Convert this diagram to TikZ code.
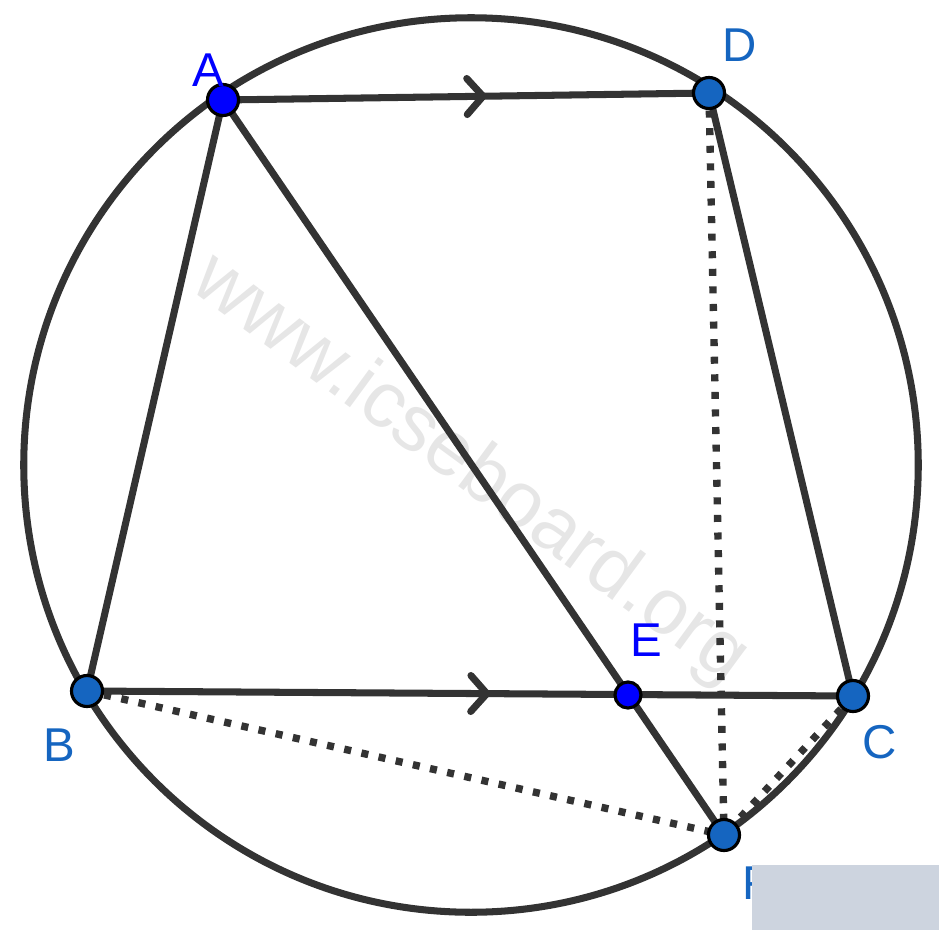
\documentclass[tikz,border=0pt]{standalone}
\usepackage{fontspec}
\setmainfont{Liberation Sans}
\usetikzlibrary{positioning,calc,decorations.markings}

\definecolor{linegray}{HTML}{333333}
\definecolor{ptblue}{HTML}{1565C0}
\definecolor{ptpure}{HTML}{0000FF}
\definecolor{markgray}{HTML}{E6E6E6}
\definecolor{boxgray}{HTML}{CDD4DF}

\begin{document}
\begin{tikzpicture}[x=0.01cm, y=-0.01cm,
    seg/.style={draw=linegray, line width=2pt},
    dotseg/.style={draw=linegray, line width=2.1pt, dash pattern=on 2pt off 3pt},
    pt/.style={circle, draw=black, line width=0.9pt, fill=ptblue, minimum size=0.31cm, inner sep=0pt},
    ptsmall/.style={pt, fill=ptpure, minimum size=0.26cm},
    lbl/.style={text=ptblue, font=\fontsize{13.5pt}{14pt}\selectfont, inner sep=0pt},
    parallel/.style={seg, postaction={decorate}, decoration={markings,
        mark=at position #1 with {\draw[linegray, line width=2pt, line cap=round, line join=round]
        (-0.16cm,0.18cm) -- (0,0) -- (-0.16cm,-0.18cm);}}}]

    \useasboundingbox (0,0) rectangle (939,930);

    % watermark
    \node[text=markgray, font=\fontsize{22.5pt}{24pt}\selectfont, rotate=-36.3] (wm) at (470,470) {www.icseboard.org};

    % circle
    \coordinate (O) at (471,465);
    \draw[seg] (O) circle [radius=4.47cm];

    % points
    \coordinate (A) at (223,100);
    \coordinate (D) at (709,93);
    \coordinate (B) at (87,691);
    \coordinate (C) at (853,696);
    \coordinate (E) at (628,695);
    \coordinate (F) at (724,835);

    % dotted chords
    \draw[dotseg] (D) -- (F);
    \draw[dotseg] (B) -- (F);
    \draw[dotseg] (C) -- (F);

    % sides
    \draw[seg] (A) -- (B);
    \draw[seg] (D) -- (C);
    \draw[seg] (A) -- (F);
    \draw[parallel=0.535] (A) -- (D);
    \draw[parallel=0.522] (B) -- (C);

    % dots
    \node[ptsmall, minimum size=0.31cm] (nA) at (A) {};
    \node[pt] (nD) at (D) {};
    \node[pt] (nB) at (B) {};
    \node[pt] (nC) at (C) {};
    \node[ptsmall] (nE) at (E) {};
    \node[pt] (nF) at (F) {};

    % labels
    \node[lbl, text=ptpure] at (208,70) {A};
    \node[lbl] at (740,45) {D};
    \node[lbl] at (59,745) {B};
    \node[lbl] at (880,742) {C};
    \node[lbl, text=ptpure] at (646,640) {E};
    \node[lbl] at (757,883) {F};

    % cover box
    \fill[boxgray] (752,865) rectangle (939,930);

\end{tikzpicture}
\end{document}
